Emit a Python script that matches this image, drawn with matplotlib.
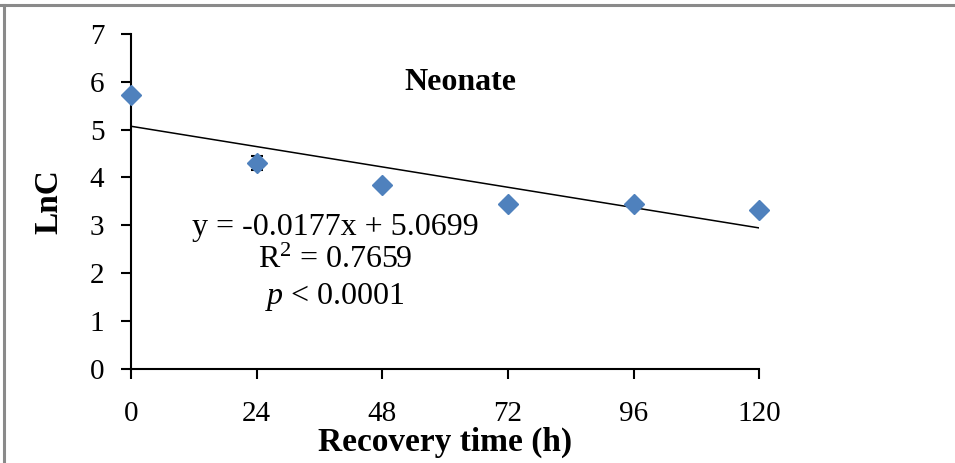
import numpy as np
import matplotlib.pyplot as plt
from matplotlib.lines import Line2D

# --- Data ---
hours = [0, 24, 48, 72, 96, 120]
lnc = [5.72, 4.30, 3.84, 3.45, 3.45, 3.32]
lnc_err = [0.05, 0.14, 0.05, 0.05, 0.06, 0.04]

slope = -0.0177
intercept = 5.0699
r2 = 0.7659

x_ticks = [0, 24, 48, 72, 96, 120]
y_ticks = [0, 1, 2, 3, 4, 5, 6, 7]

plt.rcParams['font.family'] = ['Liberation Serif', 'DejaVu Serif']
plt.rcParams['mathtext.fontset'] = 'custom'
plt.rcParams['mathtext.rm'] = 'Liberation Serif'
plt.rcParams['mathtext.it'] = 'Liberation Serif:italic'

fig = plt.figure(figsize=(9.55, 4.63), dpi=100)
ax = fig.add_axes([0.137, 0.203, 0.658, 0.724])

# error bars under the markers
ax.errorbar(hours, lnc, yerr=lnc_err, fmt='none', ecolor='black',
            elinewidth=1.2, capsize=4, capthick=1.5, zorder=2, clip_on=False)
ax.plot(hours, lnc, linestyle='none', marker='D', markersize=10.5,
        color='#4F81BD', zorder=3, clip_on=False)

# linear trend line
fit_x = np.array([hours[0], hours[-1]])
ax.plot(fit_x, intercept + slope * fit_x, color='black', linewidth=1.1, zorder=1)

ax.text(39, 2.95, f'y = {slope}x + {intercept}', ha='center', va='center', fontsize=23)
ax.text(39, 2.27, f'R$^2$ = {r2}', ha='center', va='center', fontsize=23)
ax.text(39, 1.5, r'$\it{p}$ < 0.0001', ha='center', va='center', fontsize=23)
ax.text(63, 5.98, 'Neonate', ha='center', va='center', fontsize=23, fontweight='bold')

ax.set_xlim(0, 120)
ax.set_ylim(0, 7)
ax.set_xticks(x_ticks)
ax.set_yticks(y_ticks)
ax.tick_params(direction='out', length=7, width=1.5, labelsize=21)
ax.tick_params(axis='x', pad=16)
ax.tick_params(axis='y', pad=12)
for side in ['top', 'right']:
    ax.spines[side].set_visible(False)
for side in ['left', 'bottom']:
    ax.spines[side].set_linewidth(1.5)

ax.set_xlabel('Recovery time (h)', fontsize=24, fontweight='bold', labelpad=0)
ax.set_ylabel('LnC', fontsize=24, fontweight='bold', labelpad=18)

# grey frame along the top and left edge
fig.add_artist(Line2D([0, 1], [0.989, 0.989], color='#8a8a8a', linewidth=2.2, transform=fig.transFigure))
fig.add_artist(Line2D([0.004, 0.004], [0, 0.989], color='#8a8a8a', linewidth=2.2, transform=fig.transFigure))

fig.savefig('out.png', dpi=100)
